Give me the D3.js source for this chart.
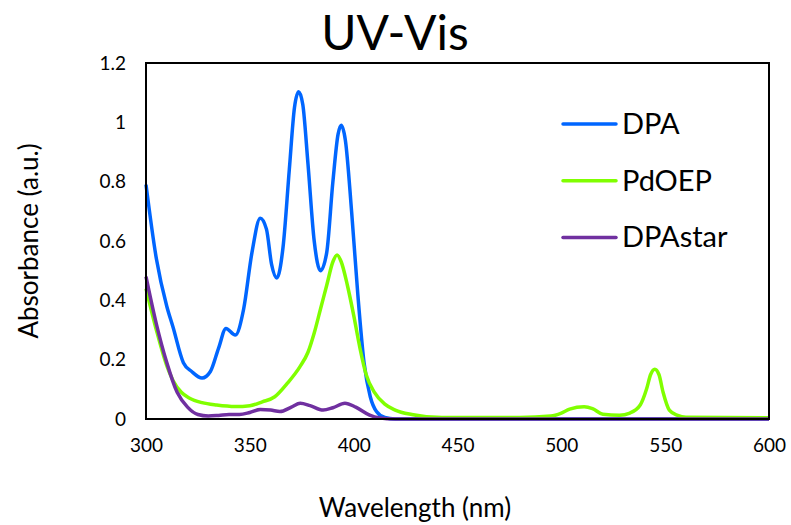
<!DOCTYPE html>
<html>
<head>
<meta charset="utf-8">
<script src="https://cdn.jsdelivr.net/npm/d3@7"></script>
<style>
  body { margin: 0; background: #fff; }
  text { font-family: Lato, "Open Sans", sans-serif; fill: #000; }
</style>
</head>
<body>
<div id="entry"></div>
<script>
// absorbance spectra
var dpaNm  = [300, 305, 310, 313, 318, 322, 327, 331, 335, 338.5, 343, 347, 351, 355, 358, 360.5, 363, 366, 369, 371.5, 373.5, 375.5, 378, 381, 384, 387, 390, 392.5, 394, 396, 399, 402, 405, 408, 411, 415, 420, 600];
var dpaAbs = [0.79, 0.54, 0.38, 0.31, 0.19, 0.16, 0.138, 0.16, 0.24, 0.305, 0.283, 0.37, 0.56, 0.677, 0.64, 0.52, 0.475, 0.58, 0.84, 1.05, 1.103, 1.06, 0.86, 0.6, 0.5, 0.56, 0.8, 0.96, 0.99, 0.94, 0.7, 0.42, 0.19, 0.075, 0.025, 0.005, 0, 0];

var pdNm  = [300, 305, 310, 313, 317, 321, 327, 334, 343, 350, 356, 362, 368, 374, 378, 381, 384, 387, 390, 392, 394, 397, 400, 403, 406, 410, 415, 420, 428, 435, 450, 480, 495, 500, 504, 511, 515, 520, 528, 533, 538, 541, 543, 545, 547, 549, 552, 556, 560, 600];
var pdAbs = [0.44, 0.3, 0.18, 0.13, 0.09, 0.07, 0.055, 0.047, 0.042, 0.045, 0.058, 0.075, 0.12, 0.175, 0.225, 0.29, 0.37, 0.45, 0.53, 0.553, 0.53, 0.45, 0.35, 0.24, 0.15, 0.09, 0.05, 0.03, 0.015, 0.008, 0.005, 0.005, 0.01, 0.02, 0.033, 0.041, 0.035, 0.016, 0.013, 0.02, 0.047, 0.1, 0.15, 0.168, 0.15, 0.09, 0.03, 0.012, 0.006, 0.004];

var starNm  = [300, 305, 310, 315, 320, 325, 330, 335, 340, 345, 350, 355, 360, 364.5, 370, 374.3, 379, 385.3, 390, 395.8, 401, 407.7, 412, 420, 600];
var starAbs = [0.48, 0.32, 0.19, 0.09, 0.04, 0.015, 0.01, 0.012, 0.015, 0.015, 0.022, 0.032, 0.03, 0.025, 0.04, 0.053, 0.045, 0.03, 0.038, 0.053, 0.04, 0.013, 0.004, 0, 0];

var seriesNames  = ['DPA', 'PdOEP', 'DPAstar'];
var seriesColors = ['#0066ff', '#80ff00', '#7030a0'];
var xTicks = [300, 350, 400, 450, 500, 550, 600];
var yTicks = [0, 0.2, 0.4, 0.6, 0.8, 1, 1.2];

var W = 791, H = 525;
var margin = {top: 63, right: 22, bottom: 106, left: 146},
    width = W - margin.left - margin.right,
    height = H - margin.top - margin.bottom;

var x = d3.scaleLinear().domain([300, 600]).range([0, width]);
var y = d3.scaleLinear().domain([0, 1.2]).range([height, 0]);

var svg = d3.select('#entry').append('svg')
  .attr('width', W)
  .attr('height', H);

svg.append('text')
  .attr('x', 395)
  .attr('y', 50)
  .attr('text-anchor', 'middle')
  .style('font-size', '48px')
  .text('UV-Vis');

var g = svg.append('g')
  .attr('transform', 'translate(' + margin.left + ',' + margin.top + ')');

var series = [
  {name: seriesNames[0], nm: dpaNm, abs: dpaAbs},
  {name: seriesNames[1], nm: pdNm, abs: pdAbs},
  {name: seriesNames[2], nm: starNm, abs: starAbs}
];

var line = d3.line()
  .x(function(d) { return x(d[0]); })
  .y(function(d) { return y(d[1]); })
  .curve(d3.curveMonotoneX);

g.selectAll('path.series')
  .data(series)
  .enter()
  .append('path')
  .attr('class', 'series')
  .attr('fill', 'none')
  .attr('stroke', function(d, i) { return seriesColors[i]; })
  .attr('stroke-width', 3.5)
  .attr('stroke-linejoin', 'round')
  .attr('d', function(d) { return line(d3.zip(d.nm, d.abs)); });

// plot frame
g.append('rect')
  .attr('width', width)
  .attr('height', height)
  .attr('fill', 'none')
  .attr('stroke', '#000')
  .attr('stroke-width', 2);

var xAxis = d3.axisBottom(x).tickValues(xTicks).tickSize(0).tickPadding(20);
var yAxis = d3.axisLeft(y).tickValues(yTicks).tickSize(0).tickPadding(20)
  .tickFormat(function(d) { return String(d); });

var gx = g.append('g')
  .attr('transform', 'translate(0,' + height + ')')
  .call(xAxis);
var gy = g.append('g').call(yAxis);

[gx, gy].forEach(function(a) {
  a.select('.domain').remove();
  a.selectAll('text').style('font-size', '19px').style('font-family', 'Lato, sans-serif');
});

svg.append('text')
  .attr('x', 415)
  .attr('y', 517)
  .attr('text-anchor', 'middle')
  .style('font-size', '26px')
  .text('Wavelength (nm)');

svg.append('text')
  .attr('transform', 'translate(38,241) rotate(-90)')
  .attr('text-anchor', 'middle')
  .style('font-size', '26px')
  .text('Absorbance (a.u.)');

// legend
var legend = svg.append('g')
  .selectAll('g')
  .data(seriesNames)
  .enter()
  .append('g')
  .attr('transform', function(d, i) { return 'translate(563,' + (124 + i * 56.7) + ')'; });

legend.append('line')
  .attr('x1', 0).attr('x2', 53)
  .attr('stroke', function(d, i) { return seriesColors[i]; })
  .attr('stroke-width', 3.5)
  .attr('stroke-linecap', 'round');

legend.append('text')
  .attr('x', 59)
  .attr('y', 10)
  .style('font-size', '29px')
  .text(function(d) { return d; });
</script>
</body>
</html>
